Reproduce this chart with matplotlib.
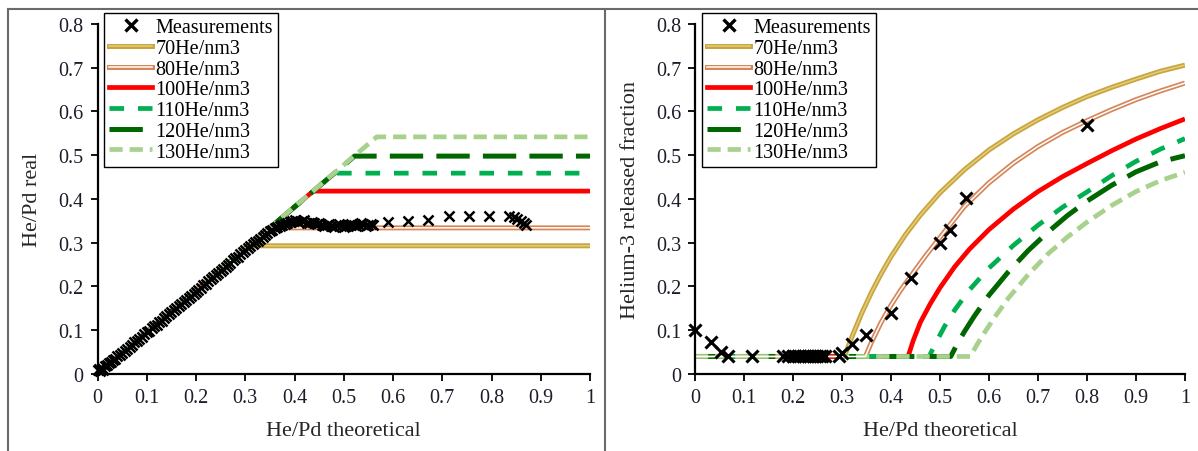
import numpy as np
import matplotlib.pyplot as plt
from matplotlib.lines import Line2D
from matplotlib.ticker import FuncFormatter, MultipleLocator

plt.rcParams['font.family'] = ['Liberation Serif', 'DejaVu Serif']
plt.rcParams['lines.scale_dashes'] = False

LABELS = ["70He/nm3", "80He/nm3", "100He/nm3", "110He/nm3", "120He/nm3", "130He/nm3"]

# left panel: model He/Pd real, linear ramp up to a saturation level
sat_level = [0.293, 0.334, 0.418, 0.459, 0.498, 0.542]
sat_knee = [0.307, 0.350, 0.438, 0.481, 0.522, 0.567]

# left panel: measurements
meas_x = [0.000, 0.003, 0.006, 0.009, 0.012, 0.016, 0.020, 0.024, 0.028, 0.032, 0.036, 0.040,
          0.045, 0.050, 0.055, 0.060, 0.065, 0.070, 0.075, 0.080, 0.085, 0.090, 0.095, 0.100,
          0.105, 0.110, 0.115, 0.120, 0.125, 0.130, 0.135, 0.140, 0.145, 0.150, 0.155, 0.160,
          0.165, 0.170, 0.175, 0.180, 0.185, 0.190, 0.195, 0.200, 0.205, 0.210, 0.215, 0.220,
          0.225, 0.230, 0.235, 0.240, 0.245, 0.250, 0.255, 0.260, 0.265, 0.270, 0.275, 0.280,
          0.285, 0.290, 0.295, 0.300, 0.305, 0.310, 0.315, 0.320, 0.325, 0.330, 0.335, 0.340,
          0.345, 0.350, 0.355, 0.360, 0.365, 0.370, 0.375, 0.380, 0.385, 0.390, 0.395, 0.400,
          0.405, 0.410, 0.415, 0.420, 0.425, 0.430, 0.435, 0.440, 0.445, 0.450, 0.455, 0.460,
          0.465, 0.470, 0.475, 0.480, 0.485, 0.490, 0.495, 0.500, 0.505, 0.510, 0.515, 0.520,
          0.525, 0.530, 0.535, 0.540, 0.545, 0.550, 0.555, 0.560,
          0.590, 0.630, 0.672, 0.713, 0.755, 0.794, 0.836, 0.845, 0.852, 0.859, 0.866, 0.870]
meas_y = [0.008, 0.012, 0.006, 0.014, 0.010, 0.018, 0.020, 0.026, 0.027, 0.033, 0.035, 0.040,
          0.043, 0.049, 0.052, 0.057, 0.062, 0.066, 0.072, 0.075, 0.081, 0.085, 0.091, 0.095,
          0.099, 0.104, 0.110, 0.113, 0.119, 0.122, 0.128, 0.132, 0.137, 0.141, 0.147, 0.150,
          0.156, 0.160, 0.164, 0.170, 0.173, 0.179, 0.183, 0.188, 0.193, 0.197, 0.203, 0.206,
          0.212, 0.216, 0.221, 0.226, 0.230, 0.236, 0.240, 0.245, 0.250, 0.254, 0.260, 0.264,
          0.268, 0.274, 0.278, 0.283, 0.288, 0.292, 0.297, 0.301, 0.305, 0.309, 0.313, 0.318,
          0.322, 0.326, 0.329, 0.333, 0.336, 0.338, 0.340, 0.343, 0.346, 0.348, 0.350, 0.352,
          0.350, 0.347, 0.349, 0.351, 0.346, 0.344, 0.348, 0.345, 0.342, 0.344, 0.340, 0.338,
          0.341, 0.343, 0.339, 0.337, 0.340, 0.342, 0.338, 0.336, 0.339, 0.341, 0.343, 0.340,
          0.338, 0.341, 0.344, 0.342, 0.339, 0.341, 0.343, 0.340,
          0.348, 0.350, 0.352, 0.361, 0.361, 0.361, 0.361, 0.359, 0.355, 0.350, 0.345, 0.340]

# right panel: released fraction curves
rel_x = [
    [0.0, 0.305, 0.32, 0.34, 0.36, 0.38, 0.40, 0.43, 0.46, 0.50, 0.55, 0.60, 0.65, 0.70,
     0.75, 0.80, 0.85, 0.90, 0.95, 1.0],
    [0.0, 0.348, 0.36, 0.38, 0.40, 0.42, 0.44, 0.47, 0.50, 0.55, 0.60, 0.65, 0.70, 0.75,
     0.80, 0.85, 0.90, 0.95, 1.0],
    [0.0, 0.435, 0.445, 0.46, 0.48, 0.50, 0.53, 0.56, 0.60, 0.65, 0.70, 0.75, 0.80, 0.85,
     0.90, 0.95, 1.0],
    [0.0, 0.478, 0.49, 0.51, 0.53, 0.56, 0.60, 0.65, 0.70, 0.75, 0.80, 0.85, 0.90, 0.95, 1.0],
    [0.0, 0.522, 0.535, 0.55, 0.57, 0.60, 0.64, 0.68, 0.72, 0.76, 0.80, 0.85, 0.90, 0.95, 1.0],
    [0.0, 0.562, 0.575, 0.59, 0.61, 0.64, 0.68, 0.72, 0.76, 0.80, 0.85, 0.90, 0.95, 1.0],
]
rel_y = [
    [0.04, 0.04, 0.084, 0.138, 0.186, 0.229, 0.268, 0.319, 0.363, 0.414, 0.467, 0.512, 0.549,
     0.581, 0.609, 0.634, 0.655, 0.674, 0.692, 0.706],
    [0.04, 0.04, 0.072, 0.118, 0.157, 0.192, 0.223, 0.269, 0.312, 0.383, 0.437, 0.482, 0.520,
     0.552, 0.579, 0.604, 0.627, 0.647, 0.665],
    [0.04, 0.04, 0.075, 0.118, 0.160, 0.197, 0.245, 0.285, 0.330, 0.377, 0.417, 0.451, 0.481,
     0.510, 0.537, 0.561, 0.583],
    [0.04, 0.04, 0.068, 0.110, 0.146, 0.192, 0.242, 0.294, 0.340, 0.381, 0.416, 0.453, 0.486,
     0.514, 0.538],
    [0.04, 0.04, 0.068, 0.097, 0.132, 0.180, 0.234, 0.282, 0.324, 0.362, 0.395, 0.431, 0.462,
     0.485, 0.499],
    [0.04, 0.04, 0.066, 0.093, 0.127, 0.174, 0.227, 0.274, 0.313, 0.347, 0.385, 0.417, 0.442,
     0.461],
]

# right panel: measurements
rm_x = [0.000, 0.032, 0.054, 0.068, 0.116, 0.180, 0.190, 0.200, 0.205, 0.210, 0.215, 0.220,
        0.225, 0.230, 0.235, 0.240, 0.245, 0.250, 0.255, 0.260, 0.265, 0.293, 0.300, 0.320,
        0.350, 0.400, 0.440, 0.500, 0.520, 0.553, 0.800]
rm_y = [0.101, 0.072, 0.051, 0.042, 0.042, 0.042, 0.042, 0.042, 0.042, 0.042, 0.042, 0.042,
        0.042, 0.042, 0.042, 0.042, 0.042, 0.042, 0.042, 0.042, 0.042, 0.042, 0.047, 0.068,
        0.089, 0.140, 0.219, 0.300, 0.330, 0.402, 0.569]

# line styles per density: (colour, width, dash, inner colour)
styles = [
    dict(color='#C9A53E', lw=3.6, ls='-', inner='#E3CD7C'),
    dict(color='#D5875A', lw=3.6, ls='-', inner='white'),
    dict(color='#FF0000', lw=3.4, ls='-', inner=None),
    dict(color='#00B050', lw=3.4, ls=(0, (10.5, 10.0)), inner=None),
    dict(color='#006600', lw=3.6, ls=(0, (24.0, 9.5)), inner=None),
    dict(color='#A9D18E', lw=3.4, ls=(0, (9.5, 5.0)), inner=None),
]

TEXT = '#1c1c2a'


def draw_series(ax, xs, ys, st, label):
    ax.plot(xs, ys, color=st['color'], lw=st['lw'], ls=st['ls'],
            solid_capstyle='butt', dash_capstyle='butt', solid_joinstyle='round', zorder=2)
    if st['inner'] is not None:
        ax.plot(xs, ys, color=st['inner'], lw=1.1, solid_joinstyle='round', zorder=2.1)
    h = [Line2D([], [], color=st['color'], lw=st['lw'], ls=st['ls'], dash_capstyle='butt')]
    if st['inner'] is not None:
        h.append(Line2D([], [], color=st['inner'], lw=1.1))
    return tuple(h)


def style_axes(ax):
    ax.set_xlim(0, 1)
    ax.set_ylim(0, 0.8)
    ax.xaxis.set_major_locator(MultipleLocator(0.1))
    ax.yaxis.set_major_locator(MultipleLocator(0.1))
    fmt = FuncFormatter(lambda v, p: '%g' % round(v, 1))
    ax.xaxis.set_major_formatter(fmt)
    ax.yaxis.set_major_formatter(fmt)
    for s in ('top', 'right'):
        ax.spines[s].set_visible(False)
    for s in ('left', 'bottom'):
        ax.spines[s].set_linewidth(1.6)
    ax.tick_params(direction='out', length=5, width=1.3, labelsize=14.5,
                   labelcolor=TEXT, pad=5)


fig = plt.figure(figsize=(11.98, 4.52), dpi=100)
ax1 = fig.add_axes([0.0814, 0.1704, 0.4111, 0.7743])
ax2 = fig.add_axes([0.5801, 0.1704, 0.4090, 0.7743])

meas_handle = Line2D([], [], ls='none', marker='x', color='black', ms=8, mew=2.4)
legend_kw = dict(loc='upper left', frameon=True, fancybox=False, framealpha=1,
                 edgecolor='black', fontsize=14.5, handlelength=2.15, handletextpad=0.15,
                 labelspacing=0.08, borderpad=0.25, borderaxespad=0)

# left: He/Pd real against theoretical
handles = [meas_handle]
for lvl, knee, st, lab in zip(sat_level, sat_knee, styles, LABELS):
    handles.append(draw_series(ax1, [0, knee, 1], [0, lvl, lvl], st, lab))
ax1.plot(meas_x, meas_y, ls='none', marker='x', color='black', ms=7, mew=1.8,
         zorder=5, clip_on=False)
style_axes(ax1)
ax1.set_xlabel('He/Pd theoretical', fontsize=16, color='#262626')
ax1.set_ylabel('He/Pd real', fontsize=16, color='#262626')
ax1.xaxis.set_label_coords(0.5, -0.135)
ax1.yaxis.set_label_coords(-0.113, 0.5)
leg = ax1.legend(handles, ['Measurements'] + LABELS, bbox_to_anchor=(0.013, 1.031), **legend_kw)
leg.get_frame().set_linewidth(1.0)

# right: released fraction of helium-3
handles = [meas_handle]
for xs, ys, st, lab in zip(rel_x, rel_y, styles, LABELS):
    handles.append(draw_series(ax2, xs, ys, st, lab))
ax2.plot(rm_x, rm_y, ls='none', marker='x', color='black', ms=9, mew=2.2,
         zorder=5, clip_on=False)
style_axes(ax2)
ax2.set_xlabel('He/Pd theoretical', fontsize=16, color='#262626')
ax2.set_ylabel('Helium-3 released fraction', fontsize=16, color='#262626')
ax2.xaxis.set_label_coords(0.5, -0.135)
ax2.yaxis.set_label_coords(-0.112, 0.5)
leg = ax2.legend(handles, ['Measurements'] + LABELS, bbox_to_anchor=(0.014, 1.031), **legend_kw)
leg.get_frame().set_linewidth(1.0)

# panel frame lines
frame_c = '#6a6a6a'
fig.add_artist(Line2D([0.0063, 1.0], [0.9768, 0.9768], color=frame_c, lw=1.5))
fig.add_artist(Line2D([0.0063, 0.0063], [0.0, 0.9768], color=frame_c, lw=1.5))
fig.add_artist(Line2D([0.505, 0.505], [0.0, 0.9768], color=frame_c, lw=1.5))

fig.savefig('out.png', dpi=100)
